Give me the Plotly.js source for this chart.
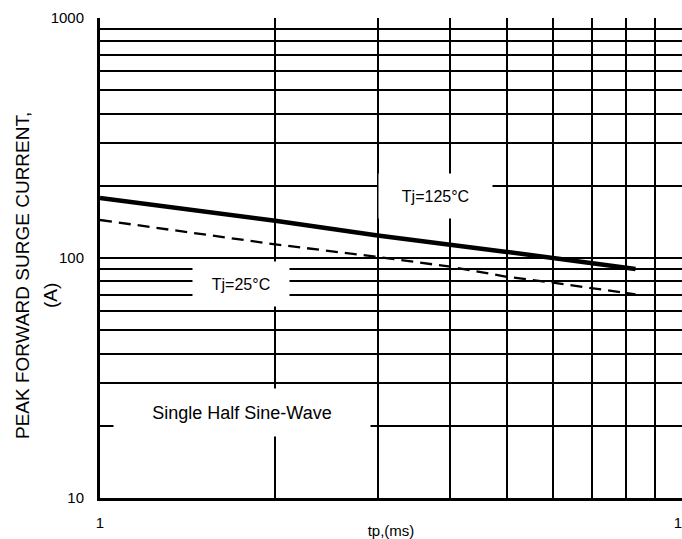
<!DOCTYPE html>
<html>
<head>
<meta charset="utf-8">
<script src="https://cdn.plot.ly/plotly-3.0.1.min.js"></script>
<style>
html,body{margin:0;padding:0;background:#fff;overflow:hidden;}
#chart{width:682px;height:539px;}
</style>
</head>
<body>
<div id="chart"></div>
<script>
// Data
const tp125 = [1, 2, 3, 4, 5, 6, 7, 8, 8.32];
const ifsm125 = [178, 143, 124, 114, 106, 100, 95.5, 91, 90];
const tp25 = [1, 2, 3, 4, 5, 6, 8, 8.32];
const ifsm25 = [144, 114, 101, 92, 83.5, 79, 71.5, 70.5];

const xTickVals = [1, 2, 3, 4, 5, 6, 7, 8, 9, 10];
const xTickText = ['1', '', '', '', '', '', '', '', '', '10'];
const yTickVals = [10, 20, 30, 40, 50, 60, 70, 80, 90, 100, 200, 300, 400, 500, 600, 700, 800, 900, 1000];
const yTickText = ['10', '', '', '', '', '', '', '', '', '100', '', '', '', '', '', '', '', '', '1000'];

const labels125 = 'Tj=125°C';
const labels25 = 'Tj=25°C';
const noteText = 'Single Half Sine-Wave';
const yTitle1 = 'PEAK FORWARD SURGE CURRENT,';
const yTitle2 = '(A)';
const xTitle = 'tp,(ms)';

const FONT = 'Arial, "Liberation Sans", sans-serif';

const traces = [
  {
    x: tp125, y: ifsm125, type: 'scatter', mode: 'lines', name: labels125,
    line: {color: '#000', width: 4.5}, hoverinfo: 'x+y'
  },
  {
    x: tp25, y: ifsm25, type: 'scatter', mode: 'lines', name: labels25,
    line: {color: '#000', width: 2.3, dash: '12px,7px'}, hoverinfo: 'x+y'
  }
];

const layout = {
  width: 682, height: 539,
  margin: {l: 100, r: 0, t: 18, b: 41},
  paper_bgcolor: '#fff', plot_bgcolor: '#fff',
  showlegend: false,
  font: {family: FONT, color: '#000', size: 15},
  xaxis: {
    type: 'log', range: [0, 1],
    tickmode: 'array', tickvals: xTickVals, ticktext: xTickText,
    showgrid: true, gridcolor: '#000', gridwidth: 2,
    showline: true, linecolor: '#000', linewidth: 3,
    ticks: '', ticklabelstandoff: 9, ticklabeloverflow: 'allow',
    tickfont: {family: FONT, size: 15, color: '#000'},
    zeroline: false,
    title: {text: xTitle, font: {family: FONT, size: 15, color: '#000'}, standoff: 0}
  },
  yaxis: {
    type: 'log', range: [1, 3],
    tickmode: 'array', tickvals: yTickVals, ticktext: yTickText,
    showgrid: true, gridcolor: '#000', gridwidth: 2,
    showline: true, linecolor: '#000', linewidth: 3,
    ticks: '', ticklabelstandoff: 10,
    tickfont: {family: FONT, size: 15, color: '#000'},
    zeroline: false
  },
  annotations: [
    {xref: 'paper', yref: 'paper', x: 0.5765, y: 0.629, xanchor: 'center', yanchor: 'middle',
     text: labels125, showarrow: false, bgcolor: '#fff', width: 113, height: 44, borderpad: 0,
     font: {family: FONT, size: 16, color: '#000'}},
    {xref: 'paper', yref: 'paper', x: 0.2423, y: 0.4458, xanchor: 'center', yanchor: 'middle',
     text: labels25, showarrow: false, bgcolor: '#fff', width: 96, height: 44, borderpad: 0,
     font: {family: FONT, size: 16, color: '#000'}},
    {xref: 'paper', yref: 'paper', x: 0.244, y: 0.178, xanchor: 'center', yanchor: 'middle',
     text: noteText, showarrow: false, bgcolor: '#fff', width: 256, height: 47, borderpad: 0,
     font: {family: FONT, size: 18, color: '#000'}},
    {xref: 'paper', yref: 'paper', x: -0.134, y: 0.4625, xanchor: 'center', yanchor: 'middle',
     text: yTitle1, textangle: -90, showarrow: false,
     font: {family: FONT, size: 19, color: '#000'}},
    {xref: 'paper', yref: 'paper', x: -0.0842, y: 0.423, xanchor: 'center', yanchor: 'middle',
     text: yTitle2, textangle: -90, showarrow: false,
     font: {family: FONT, size: 19, color: '#000'}}
  ]
};

Plotly.newPlot('chart', traces, layout, {staticPlot: true, displayModeBar: false});
</script>
</body>
</html>
